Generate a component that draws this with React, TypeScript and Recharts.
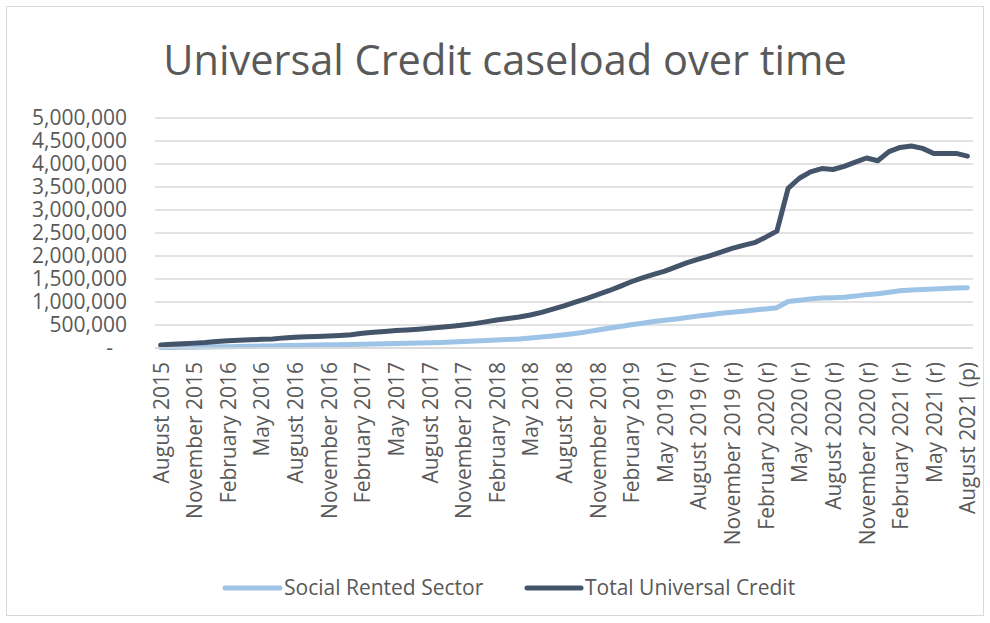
import React from 'react';
import { LineChart, Line, XAxis, YAxis, CartesianGrid } from 'recharts';

const categories: string[] = [
  'August 2015', 'September 2015', 'October 2015', 'November 2015', 'December 2015', 'January 2016',
  'February 2016', 'March 2016', 'April 2016', 'May 2016', 'June 2016', 'July 2016',
  'August 2016', 'September 2016', 'October 2016', 'November 2016', 'December 2016', 'January 2017',
  'February 2017', 'March 2017', 'April 2017', 'May 2017', 'June 2017', 'July 2017',
  'August 2017', 'September 2017', 'October 2017', 'November 2017', 'December 2017', 'January 2018',
  'February 2018', 'March 2018', 'April 2018', 'May 2018', 'June 2018', 'July 2018',
  'August 2018', 'September 2018', 'October 2018', 'November 2018', 'December 2018', 'January 2019',
  'February 2019', 'March 2019', 'April 2019', 'May 2019 (r)', 'June 2019 (r)', 'July 2019 (r)',
  'August 2019 (r)', 'September 2019 (r)', 'October 2019 (r)', 'November 2019 (r)', 'December 2019 (r)', 'January 2020 (r)',
  'February 2020 (r)', 'March 2020 (r)', 'April 2020 (r)', 'May 2020 (r)', 'June 2020 (r)', 'July 2020 (r)',
  'August 2020 (r)', 'September 2020 (r)', 'October 2020 (r)', 'November 2020 (r)', 'December 2020 (r)', 'January 2021 (r)',
  'February 2021 (r)', 'March 2021 (r)', 'April 2021 (r)', 'May 2021 (r)', 'June 2021 (r)', 'July 2021 (r)',
  'August 2021 (p)',
];

const socialRented: number[] = [
  10000, 12000, 15000, 18000, 21000, 25000, 29000, 33000, 37000, 41000, 45000, 52000,
  57000, 61000, 64000, 68000, 72000, 76000, 82000, 87000, 92000, 98000, 104000, 110000,
  116000, 122000, 130000, 142000, 152000, 162000, 173000, 184000, 197000, 216000, 238000, 262000,
  288000, 315000, 350000, 390000, 430000, 468000, 505000, 540000, 575000, 603000, 632000, 665000,
  698000, 725000, 755000, 778000, 800000, 825000, 850000, 877000, 1012000, 1040000, 1068000, 1085000,
  1095000, 1105000, 1128000, 1160000, 1180000, 1212000, 1245000, 1262000, 1273000, 1283000, 1295000, 1305000,
  1310000,
];

const totalUC: number[] = [
  68000, 80000, 93000, 106000, 120000, 140000, 158000, 168000, 178000, 188000, 198000, 220000,
  232000, 242000, 252000, 263000, 273000, 288000, 320000, 340000, 360000, 378000, 393000, 410000,
  430000, 450000, 475000, 500000, 530000, 568000, 608000, 640000, 675000, 718000, 775000, 845000,
  915000, 995000, 1075000, 1160000, 1245000, 1340000, 1440000, 1525000, 1600000, 1670000, 1765000, 1855000,
  1930000, 2005000, 2085000, 2165000, 2230000, 2290000, 2410000, 2540000, 3470000, 3690000, 3830000, 3900000,
  3880000, 3950000, 4040000, 4130000, 4070000, 4270000, 4360000, 4390000, 4340000, 4230000, 4230000, 4230000,
  4170000,
];

const yTicks: number[] = [0, 500000, 1000000, 1500000, 2000000, 2500000, 3000000, 3500000, 4000000, 4500000, 5000000];

const seriesNames = { social: 'Social Rented Sector', total: 'Total Universal Credit' };
const COLORS = { social: '#9DC3E6', total: '#44546A' };
const FONT = '"Open Sans", sans-serif';
const TEXT = '#595959';

const data = categories.map((c, i) => ({ month: c, social: socialRented[i], total: totalUC[i] }));

const YTick = (props: any) => {
  const { x, y, payload } = props;
  const v = payload.value as number;
  const label = v === 0 ? '-' : v.toLocaleString('en-US');
  return (
    <text x={v === 0 ? x - 14 : x} y={y} dy="0.35em" textAnchor="end" fill={TEXT} fontSize={21} fontFamily={FONT}>
      {label}
    </text>
  );
};

const XTick = (props: any) => {
  const { x, y, payload } = props;
  return (
    <text
      transform={`translate(${x},${y}) rotate(-90)`}
      textAnchor="end"
      dominantBaseline="central"
      fill={TEXT}
      fontSize={21}
      fontFamily={FONT}
    >
      {payload.value}
    </text>
  );
};

export default function App() {
  return (
    <div style={{ position: 'absolute', left: 0, top: 0, width: 990, height: 623, background: '#fff' }}>
      <div
        style={{
          position: 'absolute', left: 6, top: 6, width: 978, height: 610,
          border: '1px solid #d9d9d9', boxSizing: 'border-box',
        }}
      />
      <div
        style={{
          position: 'absolute', left: 0, top: 32, width: 1010, textAlign: 'center',
          fontFamily: FONT, fontSize: 41.5, color: TEXT, lineHeight: '54px',
        }}
      >
        Universal Credit caseload over time
      </div>
      <div style={{ position: 'absolute', left: 0, top: 0 }}>
        <LineChart width={990} height={623} data={data} margin={{ top: 118, right: 17, bottom: 75, left: 0 }}>
          <CartesianGrid vertical={false} stroke="#d9d9d9" strokeWidth={1.3} />
          <XAxis
            dataKey="month"
            interval={2}
            height={200}
            tickLine={false}
            axisLine={{ stroke: '#d9d9d9', strokeWidth: 1.3 }}
            tick={<XTick />}
            tickSize={0}
            tickMargin={14}
            padding={{ left: 5.6, right: 5.6 }}
          />
          <YAxis
            domain={[0, 5000000]}
            ticks={yTicks}
            interval={0}
            width={155}
            tickLine={false}
            axisLine={false}
            tick={<YTick />}
            tickSize={0}
            tickMargin={28}
          />
          <Line
            type="linear"
            dataKey="social"
            name={seriesNames.social}
            stroke={COLORS.social}
            strokeWidth={5}
            strokeLinecap="round"
            strokeLinejoin="round"
            dot={false}
            isAnimationActive={false}
          />
          <Line
            type="linear"
            dataKey="total"
            name={seriesNames.total}
            stroke={COLORS.total}
            strokeWidth={5}
            strokeLinecap="round"
            strokeLinejoin="round"
            dot={false}
            isAnimationActive={false}
          />
        </LineChart>
      </div>
      <svg style={{ position: 'absolute', left: 0, top: 570 }} width={990} height={40}>
        <line x1={225} x2={280} y1={18} y2={18} stroke={COLORS.social} strokeWidth={5} strokeLinecap="round" />
        <text x={284} y={18} dy="0.35em" fill={TEXT} fontSize={21} fontFamily={FONT}>{seriesNames.social}</text>
        <line x1={527} x2={581} y1={18} y2={18} stroke={COLORS.total} strokeWidth={5} strokeLinecap="round" />
        <text x={585} y={18} dy="0.35em" fill={TEXT} fontSize={21} fontFamily={FONT}>{seriesNames.total}</text>
      </svg>
    </div>
  );
}
